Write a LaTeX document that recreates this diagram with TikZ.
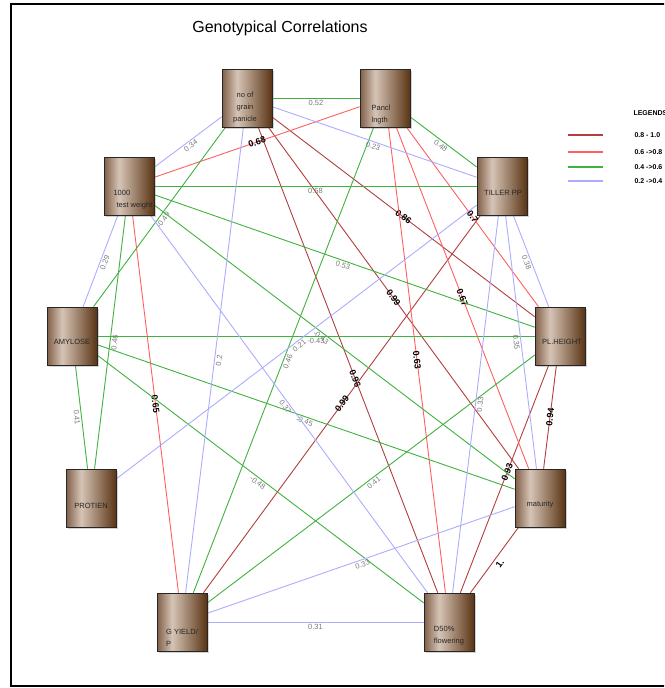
\documentclass[tikz,border=0pt]{standalone}
\usepackage{fontspec}
\setmainfont{Liberation Sans}
\usepackage{tikz}
\usetikzlibrary{shadows,backgrounds}
\definecolor{strongred}{RGB}{178,62,62}
\definecolor{midred}{RGB}{255,95,95}
\definecolor{midgreen}{RGB}{64,178,64}
\definecolor{weakblue}{RGB}{172,172,255}
\definecolor{woodleft}{RGB}{128,95,72}
\definecolor{woodlight}{RGB}{214,196,182}
\definecolor{wooddark}{RGB}{90,52,20}
\definecolor{labelgray}{RGB}{120,120,120}
\pgfdeclarehorizontalshading{wood}{100bp}{color(0bp)=(woodleft); color(25bp)=(woodleft); color(40bp)=(woodlight); color(75bp)=(wooddark); color(100bp)=(wooddark)}

\begin{document}
\begin{tikzpicture}[
    x=1pt, y=-1pt,
    box/.style={draw=black!85, line width=0.6pt, shading=wood, minimum width=50pt, minimum height=58pt, inner sep=0pt,
        drop shadow={shadow xshift=1.5pt, shadow yshift=-1.5pt, opacity=0.35}},
    boxtext/.style={font=\fontsize{7.5}{12}\selectfont, text=black!85, inner sep=0pt},
    vstrong/.style={draw=strongred, line width=0.9pt},
    strong/.style={draw=midred, line width=0.9pt},
    moderate/.style={draw=midgreen, line width=0.9pt},
    weak/.style={draw=weakblue, line width=0.9pt},
    hi/.style={font=\fontsize{9}{9}\selectfont\bfseries, sloped, inner sep=1pt},
    lo/.style={font=\fontsize{7.5}{7.5}\selectfont, text=labelgray, sloped, inner sep=1.5pt, below}
]
    \useasboundingbox (0,0) rectangle (664,688);
    \clip (0,0) rectangle (664,688);

    % Frame and title
    \draw[line width=1.5pt] (700,4) -- (11,4) -- (11,686) -- (700,686);
    \node[font=\fontsize{16}{18}\selectfont] (title) at (280,28) {Genotypical Correlations};

    % Traits
    \node[box] (grain) at (247,98) {};
    \node[box] (pan) at (385,98) {};
    \node[box] (tw) at (129,186) {};
    \node[box] (tiller) at (502,186) {};
    \node[box] (amylose) at (72,336) {};
    \node[box] (plh) at (560,336) {};
    \node[box] (protien) at (91,498) {};
    \node[box] (maturity) at (540,498) {};
    \node[box] (gyield) at (182,622) {};
    \node[box] (d50) at (449,622) {};

    \node[boxtext, align=center] (grain-txt) at (245,108) {no of\\grain\\panicle};
    \node[boxtext, align=left] (pan-txt) at (381,115) {Pancl\\lngth};
    \node[boxtext, align=left] (tw-txt) at (133,200) {1000\\\hspace*{3pt}test weight};
    \node[boxtext] (tiller-txt) at (503,193) {TILLER PP};
    \node[boxtext] (amylose-txt) at (72,342) {AMYLOSE};
    \node[boxtext] (plh-txt) at (562,342) {PL.HEIGHT};
    \node[boxtext] (protien-txt) at (91,506) {PROTIEN};
    \node[boxtext] (maturity-txt) at (540,505) {maturity};
    \node[boxtext, align=left] (gyield-txt) at (182,638) {G YIELD/\\P};
    \node[boxtext, align=left] (d50-txt) at (449,636) {D50\%\\flowering};

    % Correlations
    \begin{pgfonlayer}{background}
    % 0.8 - 1.0
    \draw[vstrong] (grain) -- node[hi] {0.86} (plh);
    \draw[vstrong] (grain) -- node[hi] {0.99} (maturity);
    \draw[vstrong] (grain) -- node[hi, pos=0.54] {0.96} (d50);
    \draw[vstrong] (tiller) -- node[hi] {0.99} (gyield);
    \draw[vstrong] (plh) -- node[hi] {0.94} (maturity);
    \draw[vstrong] (plh) -- node[hi, pos=0.47] {0.93} (d50);
    \draw[vstrong] (maturity) -- node[hi, below=2pt] {1.} (d50);
    % 0.6 - 0.8
    \draw[strong] (pan) -- node[hi] {0.68} (tw);
    \draw[strong] (pan) -- node[hi] {0.7} (plh);
    \draw[strong] (pan) -- node[hi] {0.67} (maturity);
    \draw[strong] (pan) -- node[hi] {0.63} (d50);
    \draw[strong] (tw) -- node[hi] {0.65} (gyield);
    % 0.4 - 0.6
    \draw[moderate] (grain) -- node[lo] {0.52} (pan);
    \draw[moderate] (grain) -- node[lo] {-0.49} (amylose);
    \draw[moderate] (pan) -- node[lo] {0.48} (tiller);
    \draw[moderate] (pan) -- node[lo] {0.46} (gyield);
    \draw[moderate] (tw) -- node[lo] {0.58} (tiller);
    \draw[moderate] (tw) -- node[lo] {0.53} (plh);
    \draw[moderate] (tw) -- node[lo, pos=0.47] {-0.43} (maturity);
    \draw[moderate] (tw) -- node[lo] {0.46} (protien);
    \draw[moderate] (amylose) -- node[lo] {-0.43} (plh);
    \draw[moderate] (amylose) -- node[lo] {-0.45} (maturity);
    \draw[moderate] (amylose) -- node[lo] {-0.48} (d50);
    \draw[moderate] (amylose) -- node[lo] {0.41} (protien);
    \draw[moderate] (plh) -- node[lo] {0.41} (gyield);
    % 0.2 - 0.4
    \draw[weak] (grain) -- node[lo] {0.34} (tw);
    \draw[weak] (grain) -- node[lo] {0.23} (tiller);
    \draw[weak] (grain) -- node[lo] {0.2} (gyield);
    \draw[weak] (tiller) -- node[lo] {0.21} (protien);
    \draw[weak] (tiller) -- node[lo] {0.38} (plh);
    \draw[weak] (tiller) -- node[lo] {0.35} (maturity);
    \draw[weak] (tiller) -- node[lo] {0.33} (d50);
    \draw[weak] (tw) -- node[lo] {0.29} (amylose);
    \draw[weak] (tw) -- node[lo] {0.37} (d50);
    \draw[weak] (maturity) -- node[lo] {0.33} (gyield);
    \draw[weak] (gyield) -- node[lo] {0.31} (d50);
    \end{pgfonlayer}

    % Legend
    \node[font=\fontsize{7}{8}\selectfont\bfseries, anchor=west] (legend) at (630,113) {LEGENDS};
    \foreach \yy/\sty/\txt in {135/vstrong/0.8 - 1.0, 152/strong/0.6 ->0.8, 167/moderate/0.4 ->0.6, 181/weak/0.2 ->0.4}{
        \draw[\sty, line width=1.6pt] (568,\yy) -- (603,\yy);
        \node[font=\fontsize{7}{8}\selectfont\bfseries, anchor=west] at (631,\yy) {\txt};
    }
\end{tikzpicture}
\end{document}
